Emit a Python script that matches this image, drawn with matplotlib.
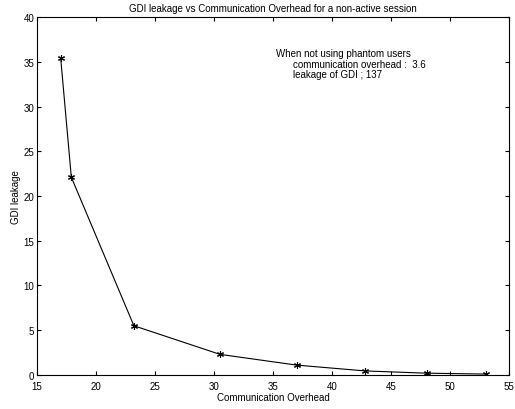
import matplotlib
matplotlib.use("Agg")
import matplotlib.pyplot as plt

# communication overhead vs GDI leakage, non-active session
overhead = [17.0, 17.9, 23.2, 30.5, 37.0, 42.8, 48.0, 53.0]
leakage = [35.4, 22.1, 5.5, 2.3, 1.1, 0.45, 0.2, 0.1]

xticks = [15, 20, 25, 30, 35, 40, 45, 50, 55]
yticks = [0, 5, 10, 15, 20, 25, 30, 35, 40]

plt.rcParams["font.family"] = ["Liberation Sans", "DejaVu Sans"]
fs = 7

fig = plt.figure(figsize=(5.15, 4.10), dpi=100)
ax = fig.add_axes([0.072, 0.083, 0.917, 0.873])
ax.plot(overhead, leakage, color="k", marker=(6, 2, 0), markersize=5,
        markeredgewidth=0.8, linewidth=0.8)
ax.set_xlim(15, 55)
ax.set_ylim(0, 40)
ax.set_xticks(xticks)
ax.set_yticks(yticks)
ax.tick_params(direction="in", top=True, right=True, labelsize=fs, length=3, pad=2)
ax.tick_params(axis="x", pad=4)
for s in ax.spines.values():
    s.set_linewidth(0.8)

ax.set_title("GDI leakage vs Communication Overhead for a non-active session", fontsize=fs, pad=4)
ax.set_xlabel("Communication Overhead", fontsize=fs, labelpad=1)
ax.set_ylabel("GDI leakage", fontsize=fs, labelpad=2)

ax.text(35.2, 36.0, "When not using phantom users", fontsize=fs, va="center")
ax.text(36.7, 34.8, "communication overhead :  3.6", fontsize=fs, va="center")
ax.text(36.7, 33.6, "leakage of GDI ; 137", fontsize=fs, va="center")

fig.savefig("out.png", dpi=100)
